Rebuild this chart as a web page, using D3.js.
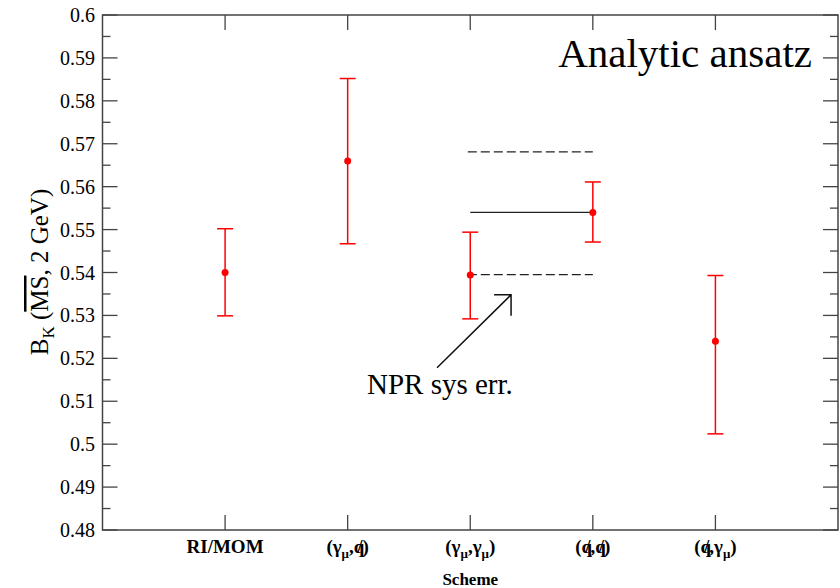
<!DOCTYPE html>
<html>
<head>
<meta charset="utf-8">
<script src="https://cdn.jsdelivr.net/npm/d3@7"></script>
<style>
body { margin: 0; background: #fff; }
text { font-family: "Liberation Serif", "Times New Roman", serif; }
</style>
</head>
<body>
<div id="chart"></div>
<script>
// scheme labels, each one a list of [text, style] pieces ("sub" = subscript, "slash" = slashed q)
var schemes = [
	[["RI/MOM", ""]],
	[["(", ""], ["γ", ""], ["μ", "sub"], [",", ""], ["q", "slash"], [")", ""]],
	[["(", ""], ["γ", ""], ["μ", "sub"], [",", ""], ["γ", ""], ["μ", "sub"], [")", ""]],
	[["(", ""], ["q", "slash"], [",", ""], ["q", "slash"], [")", ""]],
	[["(", ""], ["q", "slash"], [",", ""], ["γ", ""], ["μ", "sub"], [")", ""]]
];
var bk = [0.540, 0.566, 0.5394, 0.554, 0.524];
var bkLow = [0.5299, 0.5467, 0.5292, 0.5471, 0.5024];
var bkHigh = [0.5502, 0.5852, 0.5494, 0.5611, 0.5393];

// NPR systematic band drawn between schemes 3 and 4
var nprCentre = 0.554;
var nprBand = [0.5681, 0.5395];
var yTicks = d3.range(0.48, 0.6001, 0.01);

var W = 840, H = 588;
var pLeft = 102.5, pRight = 838, pTop = 15, pBottom = 530;

var svg = d3.select("#chart").append("svg").attr("width", W).attr("height", H);

var x = d3.scaleLinear().domain([0, 6]).range([pLeft, pRight]);
var y = d3.scaleLinear().domain([0.48, 0.6]).range([pBottom, pTop]);

// frame
svg.append("rect")
	.attr("x", pLeft).attr("y", pTop)
	.attr("width", pRight - pLeft).attr("height", pBottom - pTop)
	.attr("fill", "none").attr("stroke", "#444").attr("stroke-width", 1.5);

// y ticks (inward, mirrored on the right)
var minor = d3.range(0.485, 0.6, 0.01);
function ticksY(vals, len) {
	svg.append("g").selectAll("line").data(vals).join("line")
		.attr("x1", pLeft).attr("x2", pLeft + len)
		.attr("y1", d => y(d)).attr("y2", d => y(d))
		.attr("stroke", "#444").attr("stroke-width", 1.3);
	svg.append("g").selectAll("line").data(vals).join("line")
		.attr("x1", pRight).attr("x2", pRight - len)
		.attr("y1", d => y(d)).attr("y2", d => y(d))
		.attr("stroke", "#444").attr("stroke-width", 1.3);
}
ticksY(yTicks, 15);
ticksY(minor, 8);

svg.append("g").selectAll("text").data(yTicks).join("text")
	.attr("x", 95).attr("y", d => y(d) + 7)
	.attr("text-anchor", "end")
	.attr("font-size", 20)
	.text(d => d3.format(".2~f")(d));

// x ticks at each scheme, top and bottom
var xi = d3.range(1, schemes.length + 1);
svg.append("g").selectAll("line").data(xi).join("line")
	.attr("x1", d => x(d)).attr("x2", d => x(d))
	.attr("y1", pBottom).attr("y2", pBottom - 15)
	.attr("stroke", "#444").attr("stroke-width", 1.3);
svg.append("g").selectAll("line").data(xi).join("line")
	.attr("x1", d => x(d)).attr("x2", d => x(d))
	.attr("y1", pTop).attr("y2", pTop + 15)
	.attr("stroke", "#444").attr("stroke-width", 1.3);

// x tick labels
schemes.forEach(function(parts, i) {
	var t = svg.append("text")
		.attr("x", x(i + 1)).attr("y", 553)
		.attr("text-anchor", "middle")
		.attr("font-size", 19).attr("font-weight", "bold");
	var shift = 0;
	parts.forEach(function(p) {
		var s = t.append("tspan").text(p[0]);
		if (p[1] == "sub") {
			s.attr("font-size", 13).attr("dy", 5 - shift);
			shift = 5;
		} else {
			if (shift) s.attr("dy", -shift);
			shift = 0;
		}
		if (p[1] == "slash") {
			t.append("tspan").attr("dx", -7).text("/");
			t.append("tspan").attr("dx", -1).text("");
		}
	});
});

svg.append("text")
	.attr("x", x(3)).attr("y", 585)
	.attr("text-anchor", "middle")
	.attr("font-size", 17).attr("font-weight", "bold")
	.text("Scheme");

// y axis label
var yl = svg.append("text")
	.attr("transform", "translate(48," + 272 + ") rotate(-90)")
	.attr("text-anchor", "middle")
	.attr("font-size", 25);
yl.append("tspan").text("B");
yl.append("tspan").attr("font-size", 17).attr("dy", 6).text("K");
yl.append("tspan").attr("dy", -6).text(" (");
yl.append("tspan").style("text-decoration", "overline").text("MS");
yl.append("tspan").text(", 2 GeV)");

// NPR systematic lines
svg.append("line")
	.attr("x1", x(3)).attr("x2", x(4))
	.attr("y1", y(nprCentre)).attr("y2", y(nprCentre))
	.attr("stroke", "#222").attr("stroke-width", 1.3);
svg.append("g").selectAll("line").data(nprBand).join("line")
	.attr("x1", x(2.98)).attr("x2", x(4))
	.attr("y1", d => y(d)).attr("y2", d => y(d))
	.attr("stroke", "#222").attr("stroke-width", 1.3)
	.attr("stroke-dasharray", "9,4");

// error bars
var pts = bk.map((v, i) => ({ x: i + 1, v: v, lo: bkLow[i], hi: bkHigh[i] }));
var eb = svg.append("g").attr("stroke", "#ff0000").attr("stroke-width", 1.5);
eb.selectAll(".bar").data(pts).join("line").attr("class", "bar")
	.attr("x1", d => x(d.x)).attr("x2", d => x(d.x))
	.attr("y1", d => y(d.lo)).attr("y2", d => y(d.hi));
eb.selectAll(".capHi").data(pts).join("line").attr("class", "capHi")
	.attr("x1", d => x(d.x) - 8).attr("x2", d => x(d.x) + 8)
	.attr("y1", d => y(d.hi)).attr("y2", d => y(d.hi));
eb.selectAll(".capLo").data(pts).join("line").attr("class", "capLo")
	.attr("x1", d => x(d.x) - 8).attr("x2", d => x(d.x) + 8)
	.attr("y1", d => y(d.lo)).attr("y2", d => y(d.lo));
svg.append("g").selectAll("circle").data(pts).join("circle")
	.attr("cx", d => x(d.x)).attr("cy", d => y(d.v))
	.attr("r", 3.5).attr("fill", "#ff0000");

// arrow annotation
var ax0 = x(2.729), ay0 = y(0.5178), ax1 = x(3.333), ay1 = y(0.5348);
svg.append("path")
	.attr("d", "M" + ax0 + "," + ay0 + "L" + ax1 + "," + ay1 +
		"M" + (ax1 - 17) + "," + ay1 + "L" + ax1 + "," + ay1 + "L" + ax1 + "," + (ay1 + 21))
	.attr("fill", "none").attr("stroke", "#111").attr("stroke-width", 1.5);

svg.append("text")
	.attr("x", 367).attr("y", 394)
	.attr("font-size", 29)
	.text("NPR sys err.");

svg.append("text")
	.attr("x", 812).attr("y", 67)
	.attr("text-anchor", "end")
	.attr("font-size", 41)
	.text("Analytic ansatz");
</script>
</body>
</html>
